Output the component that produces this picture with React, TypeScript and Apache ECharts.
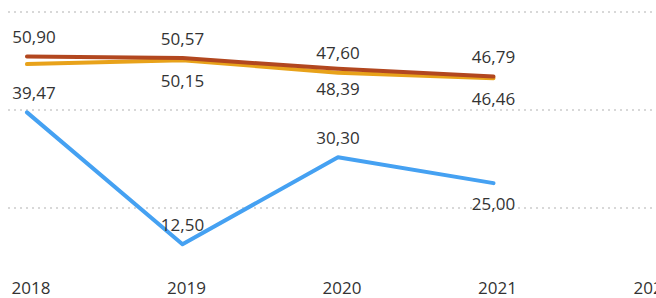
import React, { useEffect, useRef } from "react";
import * as echarts from "echarts";

const years = [2018, 2019, 2020, 2021];
const axisYears = [2018, 2019, 2020, 2021, 2022];
const brownValues = [50.9, 50.57, 48.39, 46.79];
const orangeValues = [49.35, 50.15, 47.6, 46.46];
const blueValues = [39.47, 12.5, 30.3, 25.0];
const gridValues = [20, 40, 60];

// label placement per point: "top" | "bottom" | "none"
const brownLabelPos = ["top", "top", "bottom", "top"];
const orangeLabelPos = ["none", "bottom", "top", "bottom"];
const blueLabelPos = ["top", "top", "top", "bottom"];

const fmt = (v: number) => v.toFixed(2).replace(".", ",");
const FONT = '"Segoe UI", "Open Sans", "Noto Sans", sans-serif';

function buildData(vals: number[], pos: string[]) {
  return vals.map((v, i) => {
    const p = pos[i];
    return {
      value: [years[i], v],
      label: p === "none" ? { show: false } : { show: true, position: p },
    };
  });
}

export default function App() {
  const ref = useRef<HTMLDivElement>(null);
  useEffect(() => {
    if (!ref.current) return;
    const chart = echarts.init(ref.current, undefined, { renderer: "svg" });
    const labelBase = {
      show: true,
      distance: 11,
      color: "#333333",
      fontSize: 17,
      fontFamily: FONT,
      formatter: (p: any) => fmt(p.value[1]),
    };
    const mkSeries = (name: string, vals: number[], pos: string[], color: string, z: number) => ({
      name,
      type: "line",
      data: buildData(vals, pos),
      symbol: "circle",
      symbolSize: 1,
      showSymbol: true,
      lineStyle: { color, width: 4, cap: "round", join: "round" },
      itemStyle: { color: "rgba(0,0,0,0)", borderWidth: 0 },
      label: labelBase,
      labelLayout: (params: any) => ({ dx: params.dataIndex === 0 ? 7 : 0, hideOverlap: false }),
      z,
      emphasis: { disabled: true },
    });
    chart.setOption({
      animation: false,
      grid: { left: 8, right: 0, top: 12, bottom: 41.5, containLabel: false, outerBoundsMode: "none" },
      xAxis: {
        type: "value",
        min: 2017.878,
        max: 2022.045,
        axisLine: { show: false },
        axisTick: { show: false },
        splitLine: { show: false },
        axisLabel: {
          customValues: axisYears,
          formatter: (v: number) => String(v),
          color: "#333333",
          fontSize: 17,
          fontFamily: FONT,
          margin: 22,
          padding: [0, 0, 0, 8],
        },
      },
      yAxis: {
        type: "value",
        min: 10,
        max: 60,
        show: false,
        splitLine: { show: false },
      },
      series: [
        {
          ...mkSeries("Orange", orangeValues, orangeLabelPos, "#E8A21A", 2),
          markLine: {
            silent: true,
            symbol: "none",
            label: { show: false },
            lineStyle: { color: "#cccccc", type: [2, 4], width: 1.5 },
            data: gridValues.map((v) => ({ yAxis: v })),
            z: 0,
          },
        },
        mkSeries("Brown", brownValues, brownLabelPos, "#B2471F", 3),
        mkSeries("Blue", blueValues, blueLabelPos, "#45A1F2", 4),
      ],
    });
    return () => chart.dispose();
  }, []);
  return (
    <div
      ref={ref}
      style={{ position: "fixed", left: 0, top: 0, width: 656, height: 298, background: "#ffffff" }}
    />
  );
}
